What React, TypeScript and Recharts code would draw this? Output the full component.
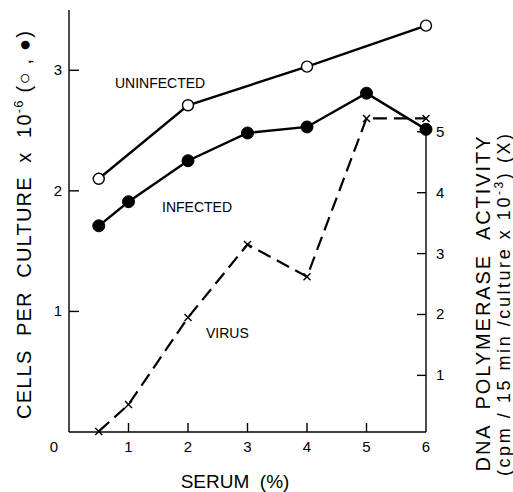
import { ComposedChart, Line, XAxis, YAxis, ReferenceLine, Customized } from 'recharts';

// serum concentration (%) where cells were counted
const serum = [0.5, 1, 2, 3, 4, 5, 6];
const uninfectedSerum = [0.5, 2, 4, 6];
// cells per culture x 10^-6
const uninfected = [2.1, 2.71, 3.03, 3.37];
const infected = [1.71, 1.91, 2.25, 2.48, 2.53, 2.81, 2.51];
// DNA polymerase activity (cpm / 15 min / culture x 10^-3)
const virus = [0.08, 0.52, 1.95, 3.15, 2.62, 5.22, 5.22];

const xTicks = [0, 1, 2, 3, 4, 5, 6];
const leftTicks = [1, 2, 3];
const rightTicks = [1, 2, 3, 4, 5];

const data = serum.map((s, i) => {
  const u = uninfectedSerum.indexOf(s);
  return {
    serum: s,
    infected: infected[i],
    virus: virus[i],
    uninfected: u >= 0 ? uninfected[u] : null,
  };
});

const FONT = '"Liberation Sans", Arial, sans-serif';
const pre = { whiteSpace: 'pre' as const };

const XTick = (props: any) => {
  const { x, y, payload } = props;
  const v = payload.value;
  return (
    <g>
      {v > 0 && v < 6 && <line x1={x} y1={y} x2={x} y2={y - 9} stroke="#000" strokeWidth={1.4} />}
      <text x={v === 0 ? x - 15 : x} y={y + 20} textAnchor="middle" fontSize={15} fontFamily={FONT} fill="#000">
        {v}
      </text>
    </g>
  );
};

const LeftTick = (props: any) => {
  const { x, y, payload } = props;
  return (
    <g>
      <line x1={x} y1={y} x2={x + 10} y2={y} stroke="#000" strokeWidth={1.4} />
      <text x={x - 7} y={y + 5} textAnchor="end" fontSize={15} fontFamily={FONT} fill="#000">
        {payload.value}
      </text>
    </g>
  );
};

const RightTick = (props: any) => {
  const { x, y, payload } = props;
  return (
    <g>
      <line x1={x} y1={y} x2={x - 9} y2={y} stroke="#000" strokeWidth={1.4} />
      <text x={x + 10} y={y + 5} textAnchor="start" fontSize={15} fontFamily={FONT} fill="#000">
        {payload.value}
      </text>
    </g>
  );
};

const CrossDot = (props: any) => {
  const { cx, cy, index } = props;
  if (cx == null || cy == null) return <g key={index} />;
  const s = 3.5;
  return (
    <g key={index}>
      <line x1={cx - s} y1={cy - s} x2={cx + s} y2={cy + s} stroke="#000" strokeWidth={1.4} />
      <line x1={cx - s} y1={cy + s} x2={cx + s} y2={cy - s} stroke="#000" strokeWidth={1.4} />
    </g>
  );
};

const Annotations = () => (
  <g fontFamily={FONT} fill="#000">
    <text x={115} y={88} fontSize={14}>UNINFECTED</text>
    <text x={162} y={212} fontSize={14}>INFECTED</text>
    <text x={206} y={338} fontSize={14}>VIRUS</text>
    <text x={235} y={488} fontSize={19} textAnchor="middle" style={pre}>SERUM  (%)</text>
    <text transform="translate(31,225) rotate(-90)" fontSize={20} textAnchor="middle" textLength={388} style={pre}>
      CELLS  PER  CULTURE  x  10
      <tspan fontSize={13} dy={-8}>-6</tspan>
      <tspan dy={8}> (○ , ●)</tspan>
    </text>
    <text transform="translate(490,304) rotate(-90)" fontSize={20} textAnchor="middle" textLength={335} style={pre}>
      DNA  POLYMERASE  ACTIVITY
    </text>
    <text transform="translate(510,305) rotate(-90)" fontSize={18} textAnchor="middle" textLength={342} style={pre}>
      (cpm / 15 min /culture x 10
      <tspan fontSize={12} dy={-7}>-3</tspan>
      <tspan dy={7}>) (X)</tspan>
    </text>
  </g>
);

export default function App() {
  return (
    <div style={{ position: 'absolute', left: 0, top: 0, background: '#fff' }}>
      <ComposedChart width={513} height={492} data={data} margin={{ top: 10, right: 0, bottom: 0, left: 0 }}>
        <XAxis
          dataKey="serum"
          type="number"
          domain={[0, 6]}
          ticks={xTicks}
          height={60}
          tickSize={0}
          tickMargin={0}
          tickLine={false}
          tick={<XTick />}
          axisLine={{ stroke: '#000', strokeWidth: 1.4 }}
        />
        <YAxis
          yAxisId="left"
          orientation="left"
          width={69}
          domain={[0, 3.5]}
          ticks={leftTicks}
          tickSize={0}
          tickMargin={0}
          tickLine={false}
          tick={<LeftTick />}
          axisLine={{ stroke: '#000', strokeWidth: 1.4 }}
        />
        <YAxis
          yAxisId="right"
          orientation="right"
          width={87}
          domain={[0.07, 7]}
          ticks={rightTicks}
          tickSize={0}
          tickMargin={0}
          tickLine={false}
          tick={<RightTick />}
          axisLine={false}
        />
        <ReferenceLine
          yAxisId="right"
          segment={[{ x: 6, y: 0.07 }, { x: 6, y: 5 }]}
          stroke="#000"
          strokeWidth={1.4}
        />
        <Line
          yAxisId="left"
          dataKey="uninfected"
          connectNulls
          stroke="#000"
          strokeWidth={2.4}
          dot={{ r: 5.5, fill: '#fff', stroke: '#000', strokeWidth: 1.4 }}
          isAnimationActive={false}
        />
        <Line
          yAxisId="left"
          dataKey="infected"
          stroke="#000"
          strokeWidth={2.4}
          dot={{ r: 6, fill: '#000', stroke: '#000', strokeWidth: 1 }}
          isAnimationActive={false}
        />
        <Line
          yAxisId="right"
          dataKey="virus"
          stroke="#000"
          strokeWidth={2.2}
          strokeDasharray="14 7"
          dot={<CrossDot />}
          isAnimationActive={false}
        />
        <Customized component={Annotations} />
      </ComposedChart>
    </div>
  );
}
